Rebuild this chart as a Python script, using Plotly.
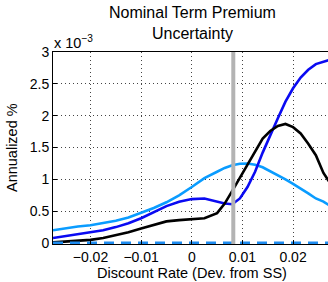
import plotly.graph_objects as go

x = [-0.0274, -0.025, -0.0225, -0.02, -0.0175, -0.015, -0.0125, -0.01, -0.0075, -0.005,
     -0.0025, 0.0, 0.0025, 0.005, 0.0065, 0.008, 0.0095, 0.011, 0.0125, 0.014,
     0.0155, 0.017, 0.0185, 0.02, 0.0215, 0.023, 0.0245, 0.026, 0.0274]

black_series = [0.01, 0.02, 0.03, 0.05, 0.08, 0.12, 0.17, 0.23, 0.29, 0.34,
                0.36, 0.37, 0.39, 0.47, 0.62, 0.82, 1.02, 1.24, 1.44, 1.64,
                1.76, 1.84, 1.87, 1.82, 1.72, 1.56, 1.38, 1.10, 0.93]

lightblue_series = [0.20, 0.23, 0.26, 0.28, 0.31, 0.35, 0.40, 0.47, 0.55, 0.64,
                    0.75, 0.88, 1.02, 1.12, 1.18, 1.22, 1.245, 1.25, 1.23, 1.19,
                    1.13, 1.07, 1.00, 0.93, 0.86, 0.78, 0.70, 0.65, 0.58]

blue_series = [0.08, 0.11, 0.14, 0.17, 0.20, 0.25, 0.31, 0.39, 0.48, 0.58,
               0.65, 0.69, 0.70, 0.65, 0.62, 0.61, 0.70, 0.88, 1.12, 1.42,
               1.70, 1.96, 2.22, 2.43, 2.60, 2.72, 2.81, 2.85, 2.88]

zero_series = [0.0] * len(x)

x_ticks = [-0.02, -0.01, 0.0, 0.01, 0.02]
x_ticklabels = ["\u22120.02", "\u22120.01", "0", "0.01", "0.02"]
y_ticks = [0, 0.5, 1, 1.5, 2, 2.5, 3]
y_ticklabels = ["0", "0.5", "1", "1.5", "2", "2.5", "3"]
steady_state_x = 0.0082

font = "Liberation Sans, Arial, sans-serif"

fig = go.Figure()
fig.add_trace(go.Scatter(x=x, y=lightblue_series, mode="lines",
                         line=dict(color="#0a9cff", width=2.6)))
fig.add_trace(go.Scatter(x=x, y=blue_series, mode="lines",
                         line=dict(color="#0a0af2", width=2.6)))
fig.add_trace(go.Scatter(x=x, y=black_series, mode="lines",
                         line=dict(color="#000000", width=2.6)))
fig.add_trace(go.Scatter(x=x, y=zero_series, mode="lines",
                         line=dict(color="#1e8cf0", width=3, dash="10px,7px")))

fig.add_shape(type="line", xref="x", yref="paper", x0=steady_state_x, x1=steady_state_x,
              y0=0, y1=1, line=dict(color="#b3b3b3", width=4))

fig.update_layout(
    width=328, height=282,
    margin=dict(l=53, r=0, t=52, b=38, autoexpand=False),
    paper_bgcolor="white", plot_bgcolor="white",
    showlegend=False,
    font=dict(family=font, size=14, color="#000"),
    xaxis=dict(range=[-0.0274, 0.0269], tickvals=x_ticks, ticktext=x_ticklabels,
               showgrid=True, gridcolor="#444", griddash="1px,3px", gridwidth=1,
               showline=True, linecolor="#000", linewidth=1, mirror=True,
               ticks="inside", ticklen=4, tickcolor="#000", zeroline=False,
               automargin=False, tickfont=dict(size=14)),
    yaxis=dict(range=[-0.015, 3], tickvals=y_ticks, ticktext=y_ticklabels,
               showgrid=True, gridcolor="#444", griddash="1px,3px", gridwidth=1,
               showline=True, linecolor="#000", linewidth=1, mirror=True,
               ticks="inside", ticklen=4, tickcolor="#000", zeroline=False,
               automargin=False, tickfont=dict(size=14)),
    annotations=[
        dict(text="Nominal Term Premium<br>Uncertainty", xref="paper", yref="paper",
             x=(192.5 - 53) / 275, y=1, yshift=50, xanchor="center", yanchor="top",
             showarrow=False, font=dict(size=16, family=font)),
        dict(text="x 10<sup>\u22123</sup>", xref="paper", yref="paper",
             x=0.0, y=1.0, xanchor="left", yanchor="bottom", showarrow=False,
             xshift=-1, yshift=-1, font=dict(size=14.5, family=font)),
        dict(text="Discount Rate (Dev. from SS)", xref="paper", yref="paper",
             x=(192 - 53) / 275, y=0, yshift=-19, xanchor="center", yanchor="top",
             showarrow=False, font=dict(size=14.5, family=font)),
        dict(text="Annualized %", xref="paper", yref="paper", textangle=-90,
             x=0, xshift=-31, y=0.5, xanchor="right", yanchor="middle",
             showarrow=False, font=dict(size=14.5, family=font)),
    ],
)

fig.write_html("out.html", config={"displayModeBar": False},
               post_script="document.body.style.margin='0';document.body.style.overflow='hidden';")
